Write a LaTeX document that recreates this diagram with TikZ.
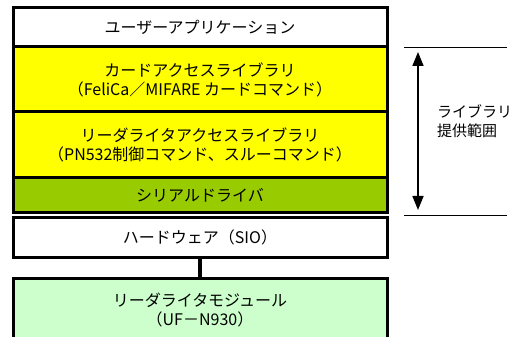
\documentclass[tikz,border=0pt]{standalone}
\usepackage{fontspec}
\setmainfont{Noto Sans CJK JP}
\usetikzlibrary{positioning,arrows.meta}
\definecolor{libyellow}{RGB}{255,255,0}
\definecolor{drvgreen}{RGB}{153,204,0}
\definecolor{modgreen}{RGB}{204,255,204}

\begin{document}
\begin{tikzpicture}[x=1pt, y=-1pt, font=\fontsize{16}{19}\selectfont,
      layer/.style={draw=black, line width=3pt, minimum width=374pt,
        outer sep=0pt, inner sep=0pt, align=center}]
      \useasboundingbox (0,0) rectangle (515,337);
      \clip (0,0) rectangle (515,337);

      \node[layer, name=app, minimum height=39pt, anchor=north] at (200,8) {ユーザーアプリケーション};
      \node[layer, name=card, fill=libyellow, minimum height=65pt, below=0pt of app]
         {カードアクセスライブラリ\\（FeliCa／MIFARE カードコマンド）};
      \node[layer, name=rw, fill=libyellow, minimum height=66pt, below=0pt of card]
         {リーダライタアクセスライブラリ\\（PN532制御コマンド、スルーコマンド）};
      \node[layer, name=serial, fill=drvgreen, minimum height=34pt, below=0pt of rw] {シリアルドライバ};
      \node[layer, name=hw, minimum height=40pt, below=5pt of serial] {ハードウェア（SIO）};
      \node[layer, name=mod, fill=modgreen, minimum height=64pt, below=21pt of hw]
         {リーダライタモジュール\\（UF－N930）};

      \path[-, line width=3.5pt]
         (hw) edge (mod);

      % library range
      \coordinate (topl) at (404,47);
      \coordinate (topr) at (507,47);
      \coordinate (botl) at (404,215);
      \coordinate (botr) at (507,215);
      \coordinate (arrtop) at (418,52);
      \coordinate (arrbot) at (418,210);
      \draw[line width=0.8pt] (topl) -- (topr);
      \draw[line width=0.8pt] (botl) -- (botr);
      \draw[{Triangle[length=14pt,width=11pt]}-{Triangle[length=14pt,width=11pt]}, line width=1.6pt]
         (arrtop) -- (arrbot);
      \node[name=range, anchor=west, align=left, inner sep=0pt, font=\fontsize{15}{19}\selectfont]
         at (437,121) {ライブラリ\\提供範囲};
\end{tikzpicture}
\end{document}
